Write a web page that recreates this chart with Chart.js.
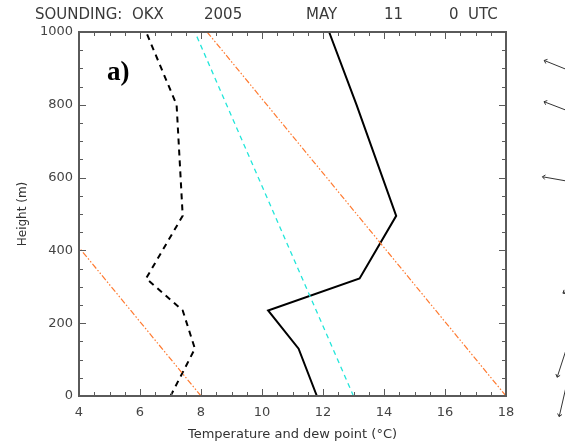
<!DOCTYPE html>
<html>
<head>
<meta charset="utf-8">
<script src="https://cdn.jsdelivr.net/npm/chart.js@4"></script>
<style>
  html, body { margin: 0; padding: 0; background: #fff; }
  #wrap { width: 565px; height: 442px; }
</style>
</head>
<body>
<div id="wrap"><canvas id="sounding" width="565" height="442"></canvas></div>
<script>
/* --------------- Sounding levels (m) and profiles (deg C) --------------- */
const levels = [0, 130, 235, 323, 495, 800, 1000];
const temperature = [11.8, 11.2, 10.2, 13.2, 14.4, 13.1, 12.2];
const dewPoint = [7.0, 7.8, 7.4, 6.2, 7.4, 7.2, 6.2];

/* --------------- Reference lines --------------- */
const moistHeights = [0, 1000];
const moistTemps = [13.0, 7.8];
const dryLowHeights = [0, 408];
const dryLowTemps = [8.0, 4.0];
const dryHighHeights = [0, 1000];
const dryHighTemps = [18.0, 8.2];

/* --------------- Winds --------------- */
const windHeights = [891, 779, 588, 297, 177, 96];
const windDirs = [292, 291, 280, 240, 198, 193];
const windSpeeds = [10, 10, 10, 3.5, 16, 19];

/* --------------- Header --------------- */
const header = ["SOUNDING:  OKX", "2005", "MAY", "11", "0  UTC"];
const headerX = [35, 204, 306, 384, 449];

const pts = (xs, ys) => xs.map((v, i) => ({ x: v, y: ys[i] }));
const FONT = "'DejaVu Sans', sans-serif";
const AXIS = "#5a5a5a";

// frame with inward ticks on all four sides, header, label and wind sticks
const decor = {
  id: "decor",
  afterDatasetsDraw(chart) {
    const { ctx, chartArea: a, scales } = chart;
    const sx = scales.x, sy = scales.y;
    ctx.save();
    ctx.strokeStyle = AXIS;
    ctx.lineWidth = 1;
    ctx.beginPath();
    sx.ticks.forEach(t => {
      const px = Math.round(sx.getPixelForValue(t.value)) + 0.5;
      const len = t.value % 2 === 0 ? 7 : 4;
      ctx.moveTo(px, a.bottom); ctx.lineTo(px, a.bottom - len);
      ctx.moveTo(px, a.top); ctx.lineTo(px, a.top + len);
    });
    sy.ticks.forEach(t => {
      const py = Math.round(sy.getPixelForValue(t.value)) + 0.5;
      const len = t.value % 200 === 0 ? 7 : 4;
      ctx.moveTo(a.left, py); ctx.lineTo(a.left + len, py);
      ctx.moveTo(a.right, py); ctx.lineTo(a.right - len, py);
    });
    ctx.stroke();
    ctx.lineWidth = 2;
    ctx.strokeRect(a.left, a.top, a.right - a.left, a.bottom - a.top);

    // header
    ctx.fillStyle = "#3a3a3a";
    ctx.font = "15px " + FONT;
    ctx.textBaseline = "middle";
    ctx.textAlign = "left";
    header.forEach((s, i) => ctx.fillText(s, headerX[i], 15));

    // panel label
    ctx.fillStyle = "#000";
    ctx.font = "bold 27px 'Liberation Serif', serif";
    ctx.fillText("a)", a.left + 28, 73);

    // wind sticks to the right of the panel
    const baseX = a.right + 66;
    ctx.strokeStyle = "#333";
    ctx.lineWidth = 1;
    windHeights.forEach((h, i) => {
      const by = sy.getPixelForValue(h);
      const r = windDirs[i] * Math.PI / 180;
      const L = windSpeeds[i] * 3;
      const dx = Math.sin(r), dy = -Math.cos(r);
      const tx = baseX + dx * L, ty = by + dy * L;
      ctx.beginPath();
      ctx.moveTo(baseX, by); ctx.lineTo(tx, ty);
      // small head at the tip
      const ang = Math.atan2(by - ty, baseX - tx);
      [0.7, -0.7].forEach(o => {
        ctx.moveTo(tx, ty);
        ctx.lineTo(tx + Math.cos(ang + o) * 3.5, ty + Math.sin(ang + o) * 3.5);
      });
      ctx.stroke();
    });
    ctx.restore();
  }
};

new Chart(document.getElementById("sounding"), {
  type: "scatter",
  plugins: [decor],
  data: {
    datasets: [
      { data: pts(dryLowTemps, dryLowHeights), borderColor: "#ff7a30", borderWidth: 1.2, borderDash: [6, 2, 1.5, 2, 1.5, 2] },
      { data: pts(dryHighTemps, dryHighHeights), borderColor: "#ff7a30", borderWidth: 1.2, borderDash: [6, 2, 1.5, 2, 1.5, 2] },
      { data: pts(moistTemps, moistHeights), borderColor: "#22e6da", borderWidth: 1.3, borderDash: [5, 4] },
      { data: pts(dewPoint, levels), borderColor: "#000", borderWidth: 2, borderDash: [6, 5] },
      { data: pts(temperature, levels), borderColor: "#000", borderWidth: 2 }
    ].map(d => Object.assign({ showLine: true, pointRadius: 0, fill: false, tension: 0 }, d))
  },
  options: {
    responsive: false,
    animation: false,
    layout: { padding: { top: 32, right: 59, left: 0, bottom: 0 } },
    plugins: { legend: { display: false }, tooltip: { enabled: false } },
    scales: {
      x: {
        type: "linear", min: 4, max: 18,
        afterFit: s => { s.height = 46; },
        grid: { display: false, drawTicks: false },
        border: { display: false },
        ticks: {
          stepSize: 0.5, autoSkip: false, maxRotation: 0, padding: 9,
          color: "#444", font: { family: FONT, size: 13 },
          callback: v => (v % 2 === 0 ? String(v) : "")
        },
        title: {
          display: true, text: "Temperature and dew point (°C)",
          color: "#333", font: { family: FONT, size: 13 }, padding: 0
        }
      },
      y: {
        type: "linear", min: 0, max: 1000,
        afterFit: s => { s.width = 79; },
        grid: { display: false, drawTicks: false },
        border: { display: false },
        ticks: {
          stepSize: 50, autoSkip: false, padding: 6,
          color: "#444", font: { family: FONT, size: 13 },
          callback: v => (v % 200 === 0 ? String(v) : "")
        },
        title: {
          display: true, text: "Height (m)",
          color: "#333", font: { family: FONT, size: 12 }, padding: { top: 16, bottom: 0 }
        }
      }
    }
  }
});
</script>
</body>
</html>
